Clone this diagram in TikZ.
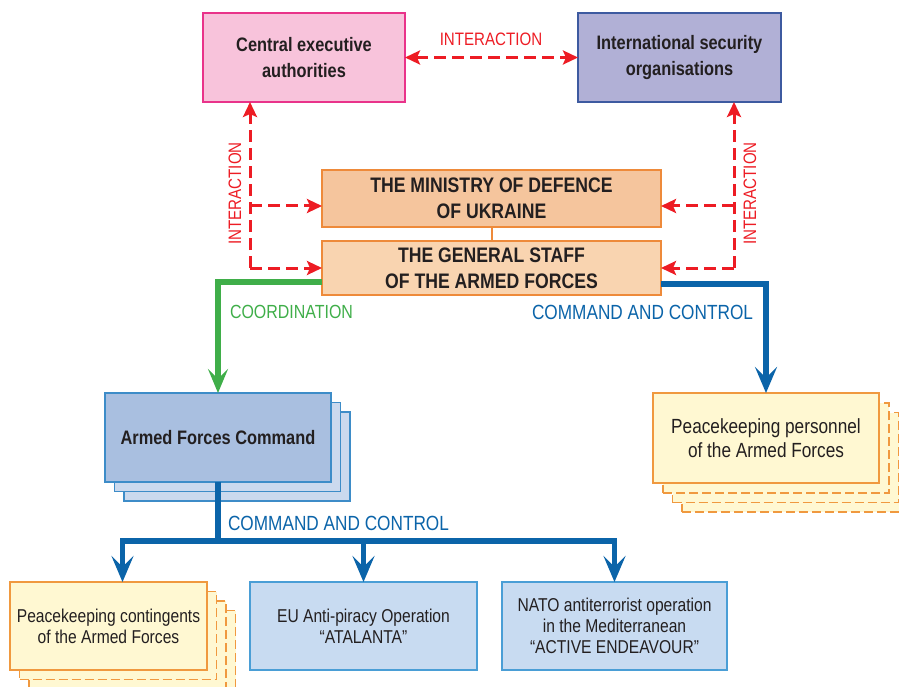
\documentclass[tikz,border=0pt]{standalone}
\usepackage{fontspec}
\setmainfont{Liberation Sans}[FakeStretch=0.84]
\usetikzlibrary{arrows.meta}
\definecolor{ink}{HTML}{231F20}
\definecolor{pinkfill}{HTML}{F8C3DB}
\definecolor{pinkdraw}{HTML}{E9338A}
\definecolor{purpfill}{HTML}{B1B0D6}
\definecolor{purpdraw}{HTML}{3D5AA0}
\definecolor{modfill}{HTML}{F5C59D}
\definecolor{gsfill}{HTML}{F9D4B0}
\definecolor{orangedraw}{HTML}{EE8A3A}
\definecolor{afcfill}{HTML}{A9BFE0}
\definecolor{afcback}{HTML}{CBD9EE}
\definecolor{afcdraw}{HTML}{3D8CC8}
\definecolor{yelfill}{HTML}{FFF8D2}
\definecolor{yeldraw}{HTML}{F0993F}
\definecolor{eufill}{HTML}{C8DBF1}
\definecolor{eudraw}{HTML}{4A9ED6}
\definecolor{redc}{HTML}{ED1C24}
\definecolor{greenc}{HTML}{3FAE49}
\definecolor{bluec}{HTML}{0B64A9}
\tikzset{
  redtip/.tip={Stealth[length=15pt,width=14pt,inset=3pt]},
  bigtip/.tip={Stealth[length=26pt,width=22pt,inset=11pt]},
  base/.style={rectangle, draw, line width=1.3pt, align=center, inner sep=0pt, outer sep=0pt, text=ink},
  sz/.style 2 args={minimum width=#1pt, minimum height=#2pt},
  hd/.style={font=\fontsize{19.5}{26}\selectfont\bfseries},
  capsf/.style={font=\fontsize{21}{26}\selectfont\bfseries},
  regf/.style={font=\fontsize{20.5}{24}\selectfont},
  smallf/.style={font=\fontsize{18.6}{21}\selectfont},
  lbl/.style={font=\fontsize{18}{20}\selectfont, inner sep=0pt, outer sep=0pt},
  lblb/.style={font=\fontsize{20.5}{22}\selectfont, inner sep=0pt, outer sep=0pt},
  backdash/.style={base, dash pattern=on 9pt off 4pt},
  reddash/.style={draw=redc, line width=3pt, dash pattern=on 12pt off 6pt},
  thick5/.style={line width=5.5pt},
}
\begin{document}
\begin{tikzpicture}[x=1pt,y=-1pt]
\useasboundingbox (0,0) rectangle (899,687);

% top boxes
\node[base, hd, sz={202}{89}, fill=pinkfill, draw=pinkdraw] (cea) at (304,57.5) {Central executive\\authorities};
\node[base, hd, sz={203}{89}, fill=purpfill, draw=purpdraw] (iso) at (679.5,57.5) {International security\\organisations};

% ministry and general staff
\node[base, capsf, sz={339}{57}, fill=modfill, draw=orangedraw] (mod) at (491.5,198.5) {THE MINISTRY OF DEFENCE\\OF UKRAINE};
\node[base, capsf, sz={339}{54}, fill=gsfill, draw=orangedraw] (gs) at (491.5,268) {THE GENERAL STAFF\\OF THE ARMED FORCES};
\draw[draw=orangedraw, line width=2pt] (mod.south) -- (gs.north);

% Armed Forces Command stack
\node[base, sz={226}{89}, fill=afcback, draw=afcdraw] (afc3) at (237,456.5) {};
\node[base, sz={226}{89}, fill=afcback, draw=afcdraw] (afc2) at (227.5,447) {};
\node[base, hd, sz={226}{89}, fill=afcfill, draw=afcdraw] (afc) at (218,437.5) {Armed Forces Command};

% Peacekeeping personnel stack
\node[backdash, sz={226}{90}, fill=yelfill, draw=yeldraw] (ppf4) at (795,467) {};
\node[backdash, sz={226}{90}, fill=yelfill, draw=yeldraw] (ppf3) at (785.5,457.5) {};
\node[backdash, sz={226}{90}, fill=yelfill, draw=yeldraw] (ppf2) at (776,448) {};
\node[base, regf, sz={226}{90}, fill=yelfill, draw=yeldraw] (ppf) at (766,438) {Peacekeeping personnel\\of the Armed Forces};

% Peacekeeping contingents stack
\node[backdash, sz={197}{88}, fill=yelfill, draw=yeldraw] (pkc4) at (137,654.5) {};
\node[backdash, sz={197}{88}, fill=yelfill, draw=yeldraw] (pkc3) at (127.5,645) {};
\node[backdash, sz={197}{88}, fill=yelfill, draw=yeldraw] (pkc2) at (118,635.5) {};
\node[base, smallf, sz={197}{88}, fill=yelfill, draw=yeldraw] (pkc) at (108.5,626) {Peacekeeping contingents\\of the Armed Forces};

% operations
\node[base, smallf, sz={227}{88}, fill=eufill, draw=eudraw] (eu) at (363.5,626) {EU Anti-piracy Operation\\“ATALANTA”};
\node[base, smallf, sz={225}{88}, fill=eufill, draw=eudraw] (nato) at (614.5,626) {NATO antiterrorist operation\\in the Mediterranean\\“ACTIVE ENDEAVOUR”};

% interaction arrows
\draw[reddash, redtip-redtip] (cea.east) -- (iso.west);
\node[lbl, text=redc] (int1) at (491,39) {INTERACTION};

\coordinate (lj) at (250,268);
\coordinate (lm) at (250,206);
\draw[reddash, -redtip] (lj) -- (cea.south -| lj);
\draw[reddash, -redtip] (lm) -- (lm -| mod.west);
\draw[reddash, -redtip] (lj) -- (gs.west);
\node[lbl, text=redc, rotate=90] (int2) at (235,193.5) {INTERACTION};

\coordinate (rj) at (734,268);
\coordinate (rm) at (734,206);
\draw[reddash, -redtip] (rj) -- (iso.south -| rj);
\draw[reddash, -redtip] (rm) -- (rm -| mod.east);
\draw[reddash, -redtip] (rj) -- (gs.east);
\node[lbl, text=redc, rotate=90] (int3) at (750,193.5) {INTERACTION};

% coordination (green)
\draw[draw=greenc, thick5, -{Stealth[length=24pt,width=20pt,inset=10pt]}] ([yshift=-14pt]gs.west) -| (afc.north);
\node[lbl, text=greenc, anchor=west, font=\fontsize{19}{20}\selectfont] (coord) at (230,312) {COORDINATION};

% command and control (blue, upper)
\draw[draw=bluec, thick5, -bigtip] ([yshift=-16pt]gs.east) -| (ppf.north);
\node[lblb, text=bluec, anchor=west] (cc1) at (532,312) {COMMAND AND CONTROL};

% command and control (blue, lower)
\coordinate (bj) at (218,541);
\draw[draw=bluec, thick5] (afc.south) -- (bj);
\draw[draw=bluec, thick5, -bigtip] (bj) -| ([xshift=14pt]pkc.north);
\draw[draw=bluec, thick5, -bigtip] (bj) -| (eu.north);
\draw[draw=bluec, thick5, -bigtip] (bj) -| (nato.north);
\node[lblb, text=bluec, anchor=west] (cc2) at (228,523) {COMMAND AND CONTROL};
\end{tikzpicture}
\end{document}
